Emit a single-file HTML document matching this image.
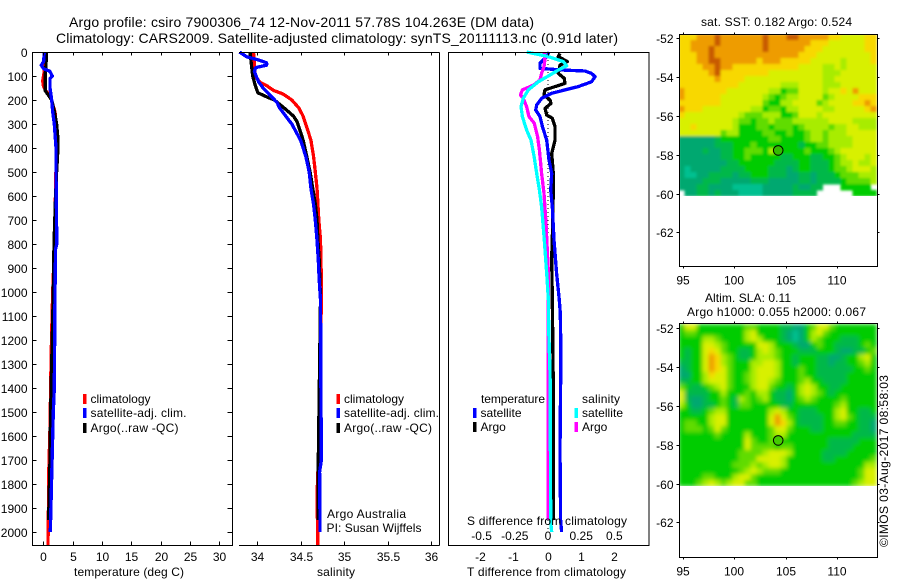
<!DOCTYPE html>
<html lang="en">
<head>
<meta charset="utf-8">
<title>Argo profile chart</title>
<style>
html,body{margin:0;padding:0;background:#fff;}
svg{display:block;}
text{font-family:"Liberation Sans",sans-serif;font-size:12px;fill:#000;}
</style>
</head>
<body>
<svg id="chart" width="900" height="580" viewBox="0 0 900 580" xmlns="http://www.w3.org/2000/svg">
<defs>
<filter id="soft-sst" x="670" y="25" width="220" height="180" filterUnits="userSpaceOnUse"><feGaussianBlur stdDeviation="1.3"/></filter>
<filter id="soft-sla" x="670" y="315" width="220" height="180" filterUnits="userSpaceOnUse"><feGaussianBlur stdDeviation="2"/></filter>
<clipPath id="clip-sst"><rect x="680" y="35" width="197" height="161"/></clipPath>
<clipPath id="clip-sla"><rect x="680" y="324" width="197" height="162"/></clipPath>
</defs>
</svg>
<script>
// ---- Axis tick data ----
const depthTicks = [0,100,200,300,400,500,600,700,800,900,1000,1100,1200,1300,1400,1500,1600,1700,1800,1900,2000];
const tempTicks = [0,5,10,15,20,25,30];
const salTicks = [34,34.5,35,35.5,36];
const salTickLabels = ['34','34.5','35','35.5','36'];
const diffTTicks = [-2,-1,0,1,2];
const diffSTicks = [-0.5,-0.25,0,0.25,0.5];
const diffSTickLabels = ['-0.5','-0.25','0','0.25','0.5'];
const mapLonTicks = [95,100,105,110];
const mapLatTicks = [-52,-54,-56,-58,-60,-62];

// ---- Temperature profiles ----
const tempClimDepth = [0,50,90,120,140,160,175,200,250,300,400,500,800,1000,1200,1400,1550,1730,1950,2054];
const tempClimValue = [0.4,0.3,0.1,-0.1,0,0.4,0.9,1.4,2,2.2,2.35,2.15,1.9,1.6,1.4,1.25,1.15,0.95,0.85,0.8];
const tempArgoDepth = [0,60,100,160,200,250,300,350,400,500,600,800,1000,1500,1700,1950];
const tempArgoValue = [0.57,0.45,0.3,0.3,1.43,1.9,2.27,2.45,2.5,2.27,2.1,1.83,1.7,1.25,1.14,0.9];
const tempSatDepth = [0,40,55,70,80,100,110,150,200,250,300,400,500,800,820,1000,1400,1500,1700,1900,2000];
const tempSatValue = [0.17,0.05,-0.34,0.05,1.1,1.53,1.14,1.14,1.43,1.6,1.87,2.16,2.16,2.3,2.1,2,1.87,1.7,1.5,1.3,1.2];

// ---- Salinity profiles ----
const salClimDepth = [0,100,125,140,160,175,200,233,267,300,367,433,500,567,633,700,783,867,950,1033,1400,1650,1850,2054];
const salClimValue = [33.96,33.98,34.03,34.11,34.19,34.30,34.40,34.48,34.53,34.56,34.62,34.65,34.67,34.69,34.70,34.71,34.73,34.735,34.74,34.74,34.72,34.71,34.69,34.70];
const salArgoDepth = [0,67,100,140,170,190,200,233,267,290,333,367,433,500,567,633,700,783,867,1033,1700,1950];
const salArgoValue = [33.92,33.94,33.95,33.98,34.01,34.13,34.2,34.31,34.42,34.46,34.5,34.53,34.57,34.61,34.64,34.67,34.69,34.7,34.715,34.73,34.705,34.705];
const salSatDepth = [0,20,33,45,55,65,80,100,125,150,180,210,233,267,300,367,433,500,567,633,700,783,867,950,1033,1400,1700,1750,2000];
const salSatValue = [33.8,33.88,34.015,34.11,34.11,33.985,33.97,33.99,34.02,34.07,34.15,34.23,34.26,34.33,34.40,34.5,34.56,34.6,34.62,34.65,34.67,34.69,34.705,34.715,34.73,34.735,34.74,34.72,34.725];

// ---- Difference profiles ----
const diffTSatDepth = [0,19,47,68,75,79,89,103,124,144,158,172,193,221,242,269,311,367,450,506,575,644,783,922,1033,1087,1254,1658,1950,2000];
const diffTSatValue = [0.03,-0.04,-0.24,-0.24,0.41,1.11,1.31,1.42,1.31,0.91,0.51,0.11,-0.19,-0.34,-0.37,-0.24,-0.17,-0.04,0.03,0.11,0.08,0.13,0.18,0.26,0.34,0.37,0.39,0.36,0.38,0.41];
const diffTArgoDepth = [6,19,40,54,89,110,131,144,158,179,200,214,235,263,276,311,367,422,506,575,783,853,1033,1400,1950];
const diffTArgoValue = [0.36,0.31,0.58,0.36,0.31,0.49,0.51,0.21,-0.09,-0.12,0.06,0.09,-0.09,-0.04,0.13,0.21,0.21,0.11,0.16,0.16,0.13,0.11,0.13,0.16,0.16];
const diffSSatDepth = [0,19,40,58,75,96,124,158,193,228,269,325,367,436,506,575,644,783,922,1033,1152,1353,1960,2000];
const diffSSatValue = [-0.161,0.003,0.115,0.141,0.078,0.015,-0.073,-0.148,-0.186,-0.203,-0.193,-0.161,-0.128,-0.105,-0.085,-0.065,-0.048,-0.028,-0.01,0.003,0.005,0.016,0.02,0.028];
const diffSArgoDepth = [0,33,61,89,117,138,158,179,193,228,269,297,353,408,506,589,714,922,1152,1950];
const diffSArgoValue = [-0.028,-0.023,-0.03,-0.048,-0.06,-0.11,-0.193,-0.208,-0.186,-0.161,-0.143,-0.103,-0.078,-0.065,-0.048,-0.03,-0.015,0.003,0,0.002];

// ---- Map fields: one character per cell, 0 to 9 along the colour scale, space = no data ----
const sstRows = [
"777888988888889888998888877666677",
"778888988888889888888877766666677",
"778889888888889888888777666666677",
"777889888888888888887776666666667",
"777889988888878887777766666566667",
"777788988777777777776666556566666",
"777778977777777666666666555666666",
"777777877776666666666666556666666",
"777777777766666665556666555666666",
"877777776666666553446666566768666",
"877777766666665434556666456666777",
"777777766666664335566664566667787",
"877766666666553443556666556666678",
"766666666654445553346665666666666",
"666666666544344544455555566665555",
"667666666533344344434555545566555",
"666666645533334433433455455566666",
"111111233333333443333455455556666",
"111111222333433333332334455556666",
"111121122334443543333433345666666",
"111111122334333332233322334566656",
"111111112233333322223322234556556",
"101111122223333222123322234456665",
"100112222122333222112212223444555",
"111122211111222111112212222344445",
"111221111000001111121122   3333 ".replace(/ $/, '3'),
" 11221211100001111122 2      3333".replace('22 2', '2222')
];
const slaRows = [
"366333333334433332211346643333333",
"344333333335633332101356433333333",
"333355433335653332101354333222333",
"333366543333366533321134332222343",
"323367643322356543332223332112234",
"323368754322355543323332211233563",
"223368754333556653323332212233453",
"123368764333566653334332222223343",
"113357664334566653334332222233333",
"223356664334566543334533222233333",
"432234564333566433235653322333333",
"622223353334355322135654323333333",
"621123343254345322134543333433333",
"531122343244333332233333334533333",
"332234553333333565332223335633223",
"333335663333333686432222335643222",
"344335663333333687532222334433221",
"344434643333333466433322333333221",
"333333433335333455333333333332222",
"333333333336433443333333322222333",
"333333333336444434433333322223333",
"333333333344445666533333222233333",
"333333333344466665333333223333334",
"333333333444545665333333333333355",
"333333333345654443333333333333466",
"333344333566433333333333333333466",
"333456545664433333333333333334566"
];

// ---- Axis functions ----
const depthY = d => 52 + d * 0.24;
const tempX = t => 43.3 + t * 5.87;
const salX = s => 257 + (s - 34) * 87;
const diffTX = t => 548 + t * 33.2;
const diffSX = s => 548 + s * 4 * 33.2;
const lonX = lon => 734.3 + (lon - 100) * 10.3;
const latTopY = lat => 38.3 + (-52 - lat) * 19.4;
const latBottomY = lat => 328.3 + (-52 - lat) * 19.4;
const mapLonStart = 94.6;
const mapLatStart = -51.78;
const mapLonStep = 0.5825;
const mapLatStep = 0.3093;
const fieldColor = v => ['#00c090','#00a870','#00b84a','#00cc00','#60dc00','#a8ec00','#d8f000','#f8d800','#ee9c00','#c85a00'][v];

const NS = 'http://www.w3.org/2000/svg';
const svg = document.getElementById('chart');

function make(tag, attrs, name, parent) {
  const el = document.createElementNS(NS, tag);
  for (const k in attrs) el.setAttribute(k, attrs[k]);
  
  
  (parent || svg).appendChild(el);
  return el;
}
function label(x, y, str, name, anchor, len, parent) {
  const attrs = {x: x, y: y, 'text-anchor': anchor || 'start'};
  if (len) { attrs.textLength = len; attrs.lengthAdjust = 'spacing'; }
  const el = make('text', attrs, name, parent);
  el.textContent = str;
  return el;
}
function seg(x1, y1, x2, y2, name, parent) {
  return make('line', {x1: x1, y1: y1, x2: x2, y2: y2, stroke: '#000', 'stroke-width': 1, 'shape-rendering': 'crispEdges'}, name, parent);
}
function profile(depths, values, xFn, color, name, parent, width) {
  const pts = depths.map((d, i) => xFn(values[i]).toFixed(1) + ',' + depthY(d).toFixed(1)).join(' ');
  return make('polyline', {points: pts, fill: 'none', stroke: color, 'stroke-width': width || 3.3, 'stroke-linejoin': 'round', 'shape-rendering': 'crispEdges'}, name, parent);
}
function legendEntry(x, y, color, str, name, parent, len) {
  make('rect', {x: x, y: y - 9, width: 3.5, height: 10, fill: color, 'shape-rendering': 'crispEdges'}, name + '-swatch', parent);
  label(x + 7.5, y, str, name + '-label', 'start', len, parent);
}

// ---- Titles ----
label(69, 27, 'Argo profile: csiro 7900306_74 12-Nov-2011 57.78S 104.263E (DM data)', 'figure-title-line-1', 'start', 465).style.fontSize = '14px';
label(56, 43, 'Climatology: CARS2009. Satellite-adjusted climatology: synTS_20111113.nc (0.91d later)', 'figure-title-line-2', 'start', 562).style.fontSize = '14px';

const TOP = 52.5, BOTTOM = 545.5;

// ---- Temperature panel ----
const p1 = make('g', {}, 'temperature-panel');
profile(tempClimDepth, tempClimValue, tempX, '#ff0000', 'temperature-climatology-line', p1);
profile(tempArgoDepth, tempArgoValue, tempX, '#000000', 'temperature-argo-line', p1);
profile(tempSatDepth, tempSatValue, tempX, '#0000ff', 'temperature-satellite-line', p1);
make('rect', {x: 32.5, y: TOP, width: 200, height: BOTTOM - TOP, fill: 'none', stroke: '#000', 'shape-rendering': 'crispEdges'}, 'temperature-frame', p1);
depthTicks.forEach(d => {
  const y = Math.round(depthY(d)) + 0.5;
  seg(32.5, y, 36.5, y, 'depth-tick-left', p1);
  seg(227.5, y, 232.5, y, 'depth-tick-right', p1);
  label(27.5, y + 4.5, String(d), 'depth-tick-label', 'end', null, p1);
});
tempTicks.forEach(t => {
  const x = Math.round(tempX(t)) + 0.5;
  seg(x, TOP, x, TOP + 3, 'temperature-tick-top', p1);
  seg(x, BOTTOM, x, BOTTOM - 4, 'temperature-tick-bottom', p1);
  label(x, 561, String(t), 'temperature-tick-label', 'middle', null, p1);
});
label(74, 576, 'temperature (deg C)', 'temperature-axis-title', 'start', 110, p1);
legendEntry(83, 403, '#ff0000', 'climatology', 'temperature-legend-climatology', p1);
legendEntry(83, 417, '#0000ff', 'satellite-adj. clim.', 'temperature-legend-satellite', p1, 96);
legendEntry(83, 432, '#000000', 'Argo(..raw -QC)', 'temperature-legend-argo', p1, 88);

// ---- Salinity panel ----
const p2 = make('g', {}, 'salinity-panel');
profile(salClimDepth, salClimValue, salX, '#ff0000', 'salinity-climatology-line', p2);
profile(salArgoDepth, salArgoValue, salX, '#000000', 'salinity-argo-line', p2);
profile(salSatDepth, salSatValue, salX, '#0000ff', 'salinity-satellite-line', p2);
seg(239, TOP, 439.5, TOP, 'salinity-frame-top', p2);
seg(239, BOTTOM, 439.5, BOTTOM, 'salinity-frame-bottom', p2);
seg(439.5, TOP, 439.5, BOTTOM, 'salinity-frame-right', p2);
salTicks.forEach((s, i) => {
  const x = Math.round(salX(s)) + 0.5;
  seg(x, TOP, x, TOP + 3, 'salinity-tick-top', p2);
  seg(x, BOTTOM, x, BOTTOM - 4, 'salinity-tick-bottom', p2);
  label(x, 561, salTickLabels[i], 'salinity-tick-label', 'middle', null, p2);
});
label(317, 576, 'salinity', 'salinity-axis-title', 'start', 38, p2);
legendEntry(336.5, 403, '#ff0000', 'climatology', 'salinity-legend-climatology', p2);
legendEntry(336.5, 417, '#0000ff', 'satellite-adj. clim.', 'salinity-legend-satellite', p2, 95);
legendEntry(336.5, 432, '#000000', 'Argo(..raw -QC)', 'salinity-legend-argo', p2, 88);
label(327, 518, 'Argo Australia', 'argo-australia-label', 'start', 79, p2);
label(326.5, 532, 'PI: Susan Wijffels', 'principal-investigator-label', 'start', 95, p2);

// ---- Difference panel ----
const p3 = make('g', {}, 'difference-panel');
make('line', {x1: diffTX(0), y1: depthY(0), x2: diffTX(0), y2: depthY(2000), stroke: '#000', 'stroke-width': 1, 'stroke-dasharray': '1 3', 'shape-rendering': 'crispEdges'}, 'zero-difference-line', p3);
profile(diffTArgoDepth, diffTArgoValue, diffTX, '#000000', 'difference-temperature-argo-line', p3);
profile(diffTSatDepth, diffTSatValue, diffTX, '#0000ff', 'difference-temperature-satellite-line', p3);
profile(diffSArgoDepth, diffSArgoValue, diffSX, '#ff00ff', 'difference-salinity-argo-line', p3);
profile(diffSSatDepth, diffSSatValue, diffSX, '#00ffff', 'difference-salinity-satellite-line', p3);
make('rect', {x: 448.5, y: TOP, width: 200.5, height: BOTTOM - TOP, fill: 'none', stroke: '#000', 'shape-rendering': 'crispEdges'}, 'difference-frame', p3);
diffTTicks.forEach(t => {
  const x = Math.round(diffTX(t)) + 0.5;
  seg(x, TOP, x, TOP + 3, 'difference-tick-top', p3);
  label(x - (t < 0 ? 2 : 0), 561, String(t), 'temperature-difference-tick-label', 'middle', null, p3);
});
diffSTicks.forEach((s, i) => {
  label(diffSX(s), 540, diffSTickLabels[i], 'salinity-difference-tick-label', 'middle', null, p3);
});
label(467, 525, 'S difference from climatology', 'salinity-difference-axis-title', 'start', 160, p3);
label(467, 576, 'T difference from climatology', 'temperature-difference-axis-title', 'start', 159, p3);
label(481, 403, 'temperature', 'legend-heading-temperature', 'start', 64, p3);
label(582, 403, 'salinity', 'legend-heading-salinity', 'start', 38, p3);
legendEntry(473, 417, '#0000ff', 'satellite', 'legend-temperature-satellite', p3, 41);
legendEntry(473, 431, '#000000', 'Argo', 'legend-temperature-argo', p3);
legendEntry(574.5, 417, '#00ffff', 'satellite', 'legend-salinity-satellite', p3, 41);
legendEntry(574.5, 431, '#ff00ff', 'Argo', 'legend-salinity-argo', p3);

// ---- Maps ----
function drawMap(rows, latY, frameTop, frameBottom, name, markerFill, softId, clipId) {
  const g = make('g', {}, name);
  const clip = make('g', {'clip-path': 'url(#' + clipId + ')'}, name + '-field-clip', g);
  const field = make('g', {filter: 'url(#' + softId + ')'}, name + '-field', clip);
  rows.forEach((row, r) => {
    for (let c = 0; c < row.length; c++) {
      const ch = row[c];
      if (ch === ' ') continue;
      const lon = mapLonStart + c * mapLonStep;
      const lat = mapLatStart - r * mapLatStep;
      const x = lonX(lon), y = latY(lat);
      const w = lonX(lon + mapLonStep) - x, h = latY(lat - mapLatStep) - y;
      make('rect', {x: x.toFixed(2), y: y.toFixed(2), width: (w + 0.3).toFixed(2), height: (h + 0.3).toFixed(2), fill: fieldColor(+ch), 'shape-rendering': 'crispEdges'}, name + '-cell', field);
    }
  });
  make('rect', {x: 679.5, y: frameTop, width: 198, height: frameBottom - frameTop, fill: 'none', stroke: '#000', 'shape-rendering': 'crispEdges'}, name + '-frame', g);
  mapLonTicks.forEach(lon => {
    const x = Math.round(lonX(lon)) + 0.5;
    seg(x, frameTop - 2, x, frameTop, name + '-tick-top', g);
    seg(x, frameBottom, x, frameBottom + 2, name + '-tick-bottom', g);
    label(x - 0.5, frameBottom + 18, String(lon), name + '-longitude-label', 'middle', null, g);
  });
  mapLatTicks.forEach(lat => {
    const y = Math.round(latY(lat)) + 0.5;
    seg(676.5, y, 679.5, y, name + '-tick-left', g);
    seg(877.5, y, 879.5, y, name + '-tick-right', g);
    label(673.5, y + 4.5, String(lat), name + '-latitude-label', 'end', null, g);
  });
  make('circle', {cx: lonX(104.263), cy: latY(-57.78), r: 4.8, fill: markerFill, stroke: '#000', 'stroke-width': 1}, name + '-float-marker', g);
}
drawMap(sstRows, latTopY, 34.5, 266.5, 'sst-map', '#33bb00', 'soft-sst', 'clip-sst');
drawMap(slaRows, latBottomY, 323.5, 557.5, 'sla-map', '#44cc00', 'soft-sla', 'clip-sla');
label(701, 26, 'sat. SST: 0.182 Argo: 0.524', 'sst-map-title', 'start', 151);
label(705, 302, 'Altim. SLA: 0.11', 'sla-map-title-line-1', 'start', 86);
label(687, 316, 'Argo h1000: 0.055 h2000: 0.067', 'sla-map-title-line-2', 'start', 179);
const stamp = label(0, 0, '©IMOS 03-Aug-2017 08:58:03', 'imos-date-stamp', 'start', 172);
stamp.setAttribute('transform', 'translate(888,547) rotate(-90)');
</script>
</body>
</html>
